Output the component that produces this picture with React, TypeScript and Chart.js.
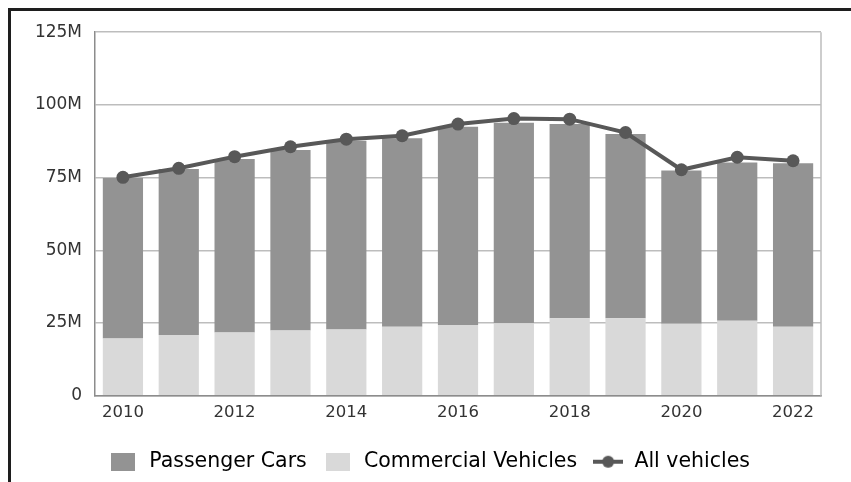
import React, { useEffect, useRef } from "react";
import { Chart, registerables } from "chart.js";

Chart.register(...registerables);

const years = ["2010", "2011", "2012", "2013", "2014", "2015", "2016", "2017", "2018", "2019", "2020", "2021", "2022"];
// values in millions
const passengerCars = [55.2, 57.1, 59.7, 62.1, 64.9, 64.8, 68.2, 69.0, 66.8, 63.4, 52.7, 54.4, 56.2];
const commercialVehicles = [19.7, 20.9, 21.7, 22.4, 22.8, 23.7, 24.3, 24.9, 26.6, 26.6, 24.7, 25.8, 23.7];
const allVehicles = [75.1, 78.2, 82.2, 85.6, 88.2, 89.4, 93.4, 95.3, 95.1, 90.5, 77.7, 82.0, 80.8];
const yTicks = [0, 25, 50, 75, 100, 125];

const PASSENGER_COLOR = "#939393";
const COMMERCIAL_COLOR = "#d9d9d9";
const LINE_COLOR = "#585858";

function makeBox(color: string): HTMLCanvasElement {
  const c = document.createElement("canvas");
  c.width = 24;
  c.height = 18;
  const ctx = c.getContext("2d")!;
  ctx.fillStyle = color;
  ctx.fillRect(0, 0, 24, 18);
  return c;
}

function makeLineSymbol(color: string): HTMLCanvasElement {
  const c = document.createElement("canvas");
  c.width = 30;
  c.height = 14;
  const ctx = c.getContext("2d")!;
  ctx.strokeStyle = color;
  ctx.lineWidth = 4;
  ctx.beginPath();
  ctx.moveTo(0, 7);
  ctx.lineTo(30, 7);
  ctx.stroke();
  ctx.fillStyle = color;
  ctx.beginPath();
  ctx.arc(15, 7, 6, 0, Math.PI * 2);
  ctx.fill();
  return c;
}

const frameRightPlugin = {
  id: "frameRight",
  beforeDatasetsDraw(chart: any) {
    const { ctx, chartArea } = chart;
    ctx.save();
    ctx.strokeStyle = "#bdbdbd";
    ctx.lineWidth = 1.5;
    ctx.beginPath();
    ctx.moveTo(chartArea.right, chartArea.top);
    ctx.lineTo(chartArea.right, chartArea.bottom);
    ctx.stroke();
    ctx.restore();
  },
};

export default function App() {
  const canvasRef = useRef<HTMLCanvasElement | null>(null);

  useEffect(() => {
    if (!canvasRef.current) return;
    Chart.defaults.font.family = "'DejaVu Sans', sans-serif";
    const symbols = [makeBox(PASSENGER_COLOR), makeBox(COMMERCIAL_COLOR), makeLineSymbol(LINE_COLOR)];
    const chart = new Chart(canvasRef.current, {
      type: "bar",
      data: {
        labels: years,
        datasets: [
          {
            type: "line",
            label: "All vehicles",
            data: allVehicles,
            borderColor: LINE_COLOR,
            backgroundColor: LINE_COLOR,
            borderWidth: 4,
            pointRadius: 6.5,
            pointBackgroundColor: LINE_COLOR,
            pointBorderWidth: 0,
            stack: "total",
            order: 0,
          } as any,
          {
            label: "Passenger Cars",
            data: passengerCars,
            backgroundColor: PASSENGER_COLOR,
            stack: "bars",
            order: 2,
          },
          {
            label: "Commercial Vehicles",
            data: commercialVehicles,
            backgroundColor: COMMERCIAL_COLOR,
            stack: "bars",
            order: 1,
          },
        ],
      },
      options: {
        animation: false,
        responsive: false,
        maintainAspectRatio: false,
        layout: { padding: { left: 24, right: 44, top: 7, bottom: 0 } },
        scales: {
          x: {
            stacked: true,
            grid: { display: false, drawTicks: false },
            border: { display: true, color: "#8c8c8c", width: 1.5 },
            afterFit: (scale: any) => {
              scale.height += 7;
            },
            ticks: {
              autoSkip: false,
              maxRotation: 0,
              padding: 7,
              color: "#333",
              font: { size: 16.5 },
              callback: (_v: any, i: number) => (i % 2 === 0 ? years[i] : ""),
            },
          },
          y: {
            stacked: true,
            min: 0,
            max: 125,
            afterBuildTicks: (scale: any) => {
              scale.ticks = yTicks.map((v) => ({ value: v }));
            },
            afterFit: (scale: any) => {
              scale.width = 59;
            },
            grid: { color: "#bdbdbd", lineWidth: 1.5, drawTicks: false },
            border: { display: true, color: "#8c8c8c", width: 1.5 },
            ticks: {
              padding: 13,
              color: "#333",
              font: { size: 17 },
              callback: (v: any) => (v === 0 ? "0" : v + "M"),
            },
          },
        },
        plugins: {
          tooltip: { enabled: false },
          legend: {
            position: "bottom",
            labels: {
              usePointStyle: true,
              pointStyleWidth: 32,
              boxHeight: 18,
              padding: 15,
              color: "#444",
              font: { size: 20.5 },
              generateLabels: () => [
                { text: "Passenger Cars", pointStyle: symbols[0], fillStyle: PASSENGER_COLOR, strokeStyle: PASSENGER_COLOR, lineWidth: 0, hidden: false, datasetIndex: 1 },
                { text: "Commercial Vehicles", pointStyle: symbols[1], fillStyle: COMMERCIAL_COLOR, strokeStyle: COMMERCIAL_COLOR, lineWidth: 0, hidden: false, datasetIndex: 2 },
                { text: "All vehicles", pointStyle: symbols[2], fillStyle: LINE_COLOR, strokeStyle: LINE_COLOR, lineWidth: 0, hidden: false, datasetIndex: 0 },
              ] as any,
            },
          },
        },
      },
      plugins: [frameRightPlugin],
    });
    return () => chart.destroy();
  }, []);

  return (
    <div style={{ position: "fixed", left: 0, top: 0, width: 851, height: 482, background: "#fff", overflow: "hidden" }}>
      <div
        style={{
          position: "absolute",
          left: 8,
          top: 8,
          width: 860,
          height: 480,
          borderLeft: "3px solid #1e1e1e",
          borderTop: "3px solid #1e1e1e",
          boxSizing: "border-box",
        }}
      />
      <canvas ref={canvasRef} width={853} height={473} style={{ position: "absolute", left: 12, top: 9, width: 853, height: 473 }} />
    </div>
  );
}
